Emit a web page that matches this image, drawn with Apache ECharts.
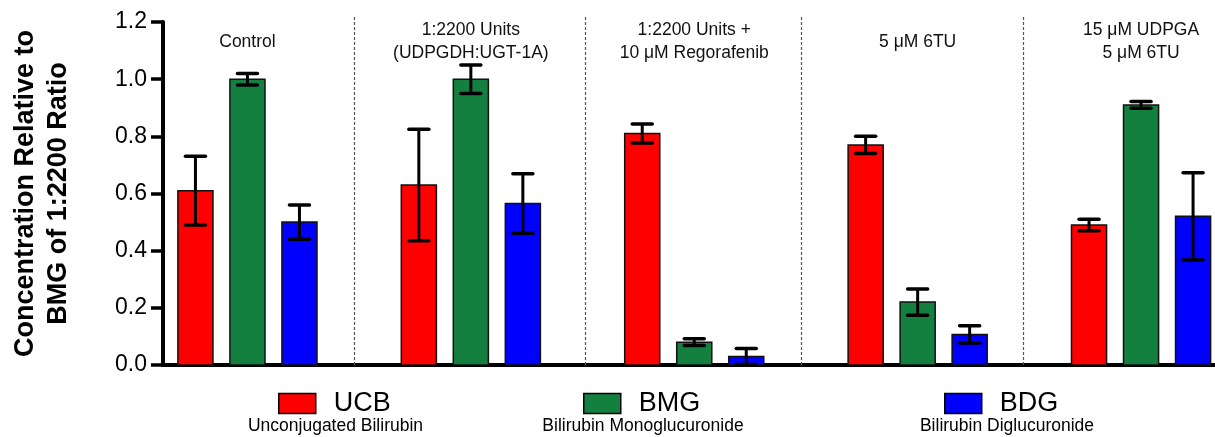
<!DOCTYPE html>
<html>
<head>
<meta charset="utf-8">
<script src="https://cdn.jsdelivr.net/npm/echarts@6/dist/echarts.min.js"></script>
<style>
  html, body { margin: 0; padding: 0; background: #fff; }
  #chart { width: 1215px; height: 437px; }
</style>
</head>
<body>
<div id="chart"></div>
<script>
// ---------------- data ----------------
const groups = [
  'Control',
  '1:2200 Units\n(UDPGDH:UGT-1A)',
  '1:2200 Units +\n10 \u03bcM Regorafenib',
  '5 \u03bcM 6TU',
  '15 \u03bcM UDPGA\n5 \u03bcM 6TU'
];
const seriesNames = ['UCB', 'BMG', 'BDG'];
const seriesDescriptions = ['Unconjugated Bilirubin', 'Bilirubin Monoglucuronide', 'Bilirubin Diglucuronide'];
const ucb    = [0.61, 0.63, 0.81, 0.77, 0.49];
const ucbErr = [0.12, 0.195, 0.033, 0.03, 0.02];
const bmg    = [1.00, 1.00, 0.08, 0.22, 0.91];
const bmgErr = [0.02, 0.05, 0.012, 0.046, 0.012];
const bdg    = [0.50, 0.565, 0.03, 0.107, 0.52];
const bdgErr = [0.06, 0.104, 0.028, 0.03, 0.153];
const yTicks = [0.0, 0.2, 0.4, 0.6, 0.8, 1.0, 1.2];

// ---------------- layout / style ----------------
const FONT = '"Liberation Sans", Arial, Helvetica, sans-serif';
const COLORS = ['#ff0000', '#14803f', '#0000ff'];
const BAR_STEP = 0.2328;   // spacing between bars inside a group (group spacing = 1)
const BAR_W = 0.157;       // bar width in group units
const DIVIDERS = [0.475, 1.51, 2.48, 3.47];
const LABEL_Y = 1.13;

const chart = echarts.init(document.getElementById('chart'), null, { renderer: 'canvas' });

function barSeries(idx, values, errs) {
  return {
    type: 'custom',
    name: seriesNames[idx],
    itemStyle: { color: COLORS[idx], borderColor: '#000', borderWidth: 1.5 },
    data: values.map((v, i) => [i, v, errs[i]]),
    encode: { x: 0, y: 1 },
    z: 3,
    renderItem: function (params, api) {
      const g = api.value(0), v = api.value(1), e = api.value(2);
      const xc = g + (idx - 1) * BAR_STEP;
      const base = api.coord([xc, 0]);
      const top = api.coord([xc, v]);
      const hw = api.size([BAR_W, 0])[0] / 2;
      const hi = api.coord([xc, v + e]);
      const lo = api.coord([xc, Math.max(v - e, 0)]);
      const cap = 10;
      return {
        type: 'group',
        children: [
          {
            type: 'rect',
            shape: { x: top[0] - hw, y: top[1], width: hw * 2, height: base[1] - top[1] },
            style: { fill: COLORS[idx], stroke: '#111', lineWidth: 1.5 }
          },
          {
            type: 'line',
            shape: { x1: top[0], y1: hi[1], x2: top[0], y2: lo[1] },
            style: { stroke: '#000', lineWidth: 3 }
          },
          {
            type: 'line',
            shape: { x1: top[0] - cap, y1: hi[1], x2: top[0] + cap, y2: hi[1] },
            style: { stroke: '#000', lineWidth: 3.5, lineCap: 'round' }
          },
          {
            type: 'line',
            shape: { x1: top[0] - cap, y1: lo[1], x2: top[0] + cap, y2: lo[1] },
            style: { stroke: '#000', lineWidth: 3.5, lineCap: 'round' }
          }
        ]
      };
    }
  };
}

const dividerSeries = {
  type: 'custom',
  name: 'dividers',
  silent: true,
  clip: false,
  z: 1,
  data: DIVIDERS.map(d => [d]),
  encode: { x: 0 },
  renderItem: function (params, api) {
    const x = api.value(0);
    const p0 = api.coord([x, 0]);
    const p1 = api.coord([x, 1.222]);
    return {
      type: 'line',
      shape: { x1: Math.round(p0[0]) + 0.5, y1: p0[1], x2: Math.round(p0[0]) + 0.5, y2: p1[1] },
      style: { stroke: '#555', lineWidth: 1.2, lineDash: [3, 2] }
    };
  }
};

const labelSeries = {
  type: 'custom',
  name: 'groupLabels',
  silent: true,
  clip: false,
  z: 4,
  data: groups.map((g, i) => [i, LABEL_Y]),
  encode: { x: 0, y: 1 },
  renderItem: function (params, api) {
    const p = api.coord([api.value(0), api.value(1)]);
    return {
      type: 'text',
      x: p[0], y: p[1],
      style: {
        text: groups[params.dataIndex],
        align: 'center', verticalAlign: 'middle',
        fontSize: 17.5, fontFamily: FONT, lineHeight: 23, fill: '#111'
      }
    };
  }
};

const legendLefts = [278, 583, 944];
const legends = seriesNames.map((n, i) => ({
  data: [{ name: n, icon: 'rect', itemStyle: { color: COLORS[i], borderColor: '#000', borderWidth: 1.5 } }],
  left: legendLefts[i],
  top: 390,
  padding: 0,
  itemWidth: 37,
  itemHeight: 20,
  selectedMode: false,
  textStyle: { fontSize: 27, color: '#000', fontFamily: FONT, padding: [0, 0, 0, 13] }
}));

const subCenters = [335.5, 643, 1007];
const subtitleGraphics = seriesDescriptions.map((t, i) => ({
  type: 'text',
  x: subCenters[i],
  y: 426,
  style: { text: t, align: 'center', verticalAlign: 'middle', fontSize: 17.5, fontFamily: FONT, fill: '#000' }
}));

const option = {
  animation: false,
  backgroundColor: '#fff',
  grid: { left: 163, right: 0, top: 22, bottom: 72, containLabel: false },
  legend: legends,
  graphic: subtitleGraphics,
  xAxis: {
    type: 'value',
    min: -0.378,
    max: 4.331,
    axisLine: { show: true, onZero: false, lineStyle: { color: '#000', width: 4 } },
    axisTick: { show: false },
    axisLabel: { show: false },
    splitLine: { show: false }
  },
  yAxis: {
    type: 'value',
    min: yTicks[0],
    max: yTicks[yTicks.length - 1],
    interval: 0.2,
    name: 'Concentration Relative to\nBMG of 1:2200 Ratio',
    nameLocation: 'middle',
    nameGap: 88,
    nameTextStyle: { fontSize: 27, fontWeight: 'bold', fontFamily: FONT, color: '#000', lineHeight: 33 },
    axisLine: { show: true, onZero: false, lineStyle: { color: '#000', width: 4 } },
    axisTick: { show: true, length: 12, lineStyle: { color: '#000', width: 3.5 } },
    axisLabel: { fontSize: 23, color: '#000', fontFamily: FONT, margin: 16,
      formatter: v => { const t = yTicks.find(k => Math.abs(k - v) < 1e-9); return (t !== undefined ? t : v).toFixed(1); } },
    splitLine: { show: false }
  },
  series: [
    dividerSeries,
    barSeries(0, ucb, ucbErr),
    barSeries(1, bmg, bmgErr),
    barSeries(2, bdg, bdgErr),
    labelSeries
  ]
};
chart.setOption(option);
</script>
</body>
</html>
